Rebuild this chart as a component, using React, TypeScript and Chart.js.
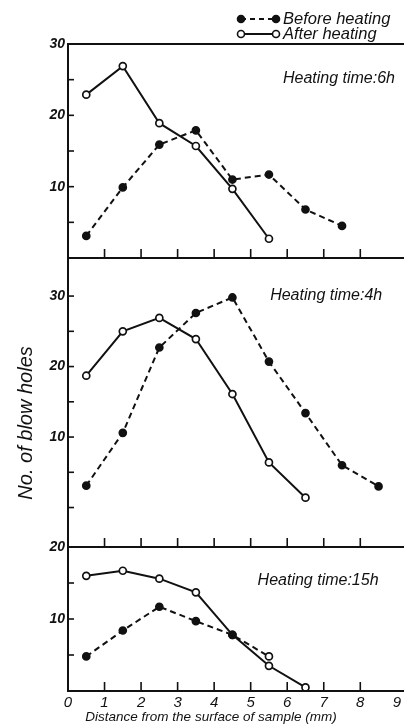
import React, { useEffect, useRef } from 'react';
import { Chart, registerables } from 'chart.js';

Chart.register(...registerables);

// ---- data ----
const distances = [0.5, 1.5, 2.5, 3.5, 4.5, 5.5, 6.5, 7.5, 8.5];
const before6h = [3.1, 9.9, 15.9, 17.9, 11, 11.7, 6.8, 4.5];
const after6h = [22.9, 26.9, 18.9, 15.7, 9.7, 2.7];
const before4h = [3.1, 10.6, 22.7, 27.6, 29.8, 20.7, 13.4, 6, 3];
const after4h = [18.7, 25, 26.9, 23.9, 16.1, 6.4, 1.4];
const before15h = [4.8, 8.4, 11.7, 9.7, 7.8, 4.8];
const after15h = [16, 16.7, 15.6, 13.7, 7.8, 3.5, 0.5];
const xTickValues = [0, 1, 2, 3, 4, 5, 6, 7, 8, 9];
const xTickLabels = ['0', '1', '2', '3', '4', '5', '6', '7', '8', '9'];
const yTickLabels6h = [10, 20, 30];
const yTickLabels4h = [10, 20, 30];
const yTickLabels15h = [10, 20];
const panelTitles = ['Heating time:6h', 'Heating time:4h', 'Heating time:15h'];
const legendLabels = ['Before heating', 'After heating'];
const xTitle = 'Distance from the surface of sample (mm)';
const yTitle = 'No. of blow holes';

const INK = '#111111';
const FONT = "'Liberation Sans', Arial, sans-serif";

function series(values: number[], axis: string, dashed: boolean, openIdx: number[] = []) {
  return {
    data: values.map((v, i) => ({ x: distances[i], y: v })),
    yAxisID: axis,
    borderColor: INK,
    borderWidth: 2,
    borderDash: dashed ? [6, 4] : [],
    pointRadius: 3.5,
    pointHoverRadius: 3.5,
    pointBorderWidth: 1.7,
    pointBorderColor: INK,
    pointBackgroundColor: values.map((_, i) => (!dashed || openIdx.includes(i) ? '#ffffff' : INK)),
    tension: 0,
    fill: false,
  };
}

function yAxis(min: number, max: number, weight: number, labels: number[]) {
  return {
    type: 'linear' as const,
    position: 'left' as const,
    stack: 'panels',
    stackWeight: weight,
    min,
    max,
    afterBuildTicks: (s: any) => {
      s.ticks = labels.map((v) => ({ value: v }));
    },
    afterFit: (s: any) => {
      s.width = 68;
    },
    grid: { display: false, drawTicks: false },
    border: { display: true, color: INK, width: 2 },
    ticks: {
      padding: 3,
      color: INK,
      font: { family: FONT, size: 14, style: 'italic' as const, weight: 'bold' as const },
    },
  };
}

const decorations = {
  id: 'decorations',
  afterDraw(chart: any) {
    const ctx = chart.ctx as CanvasRenderingContext2D;
    const xs = chart.scales.x;
    const y1 = chart.scales.y1;
    const y2 = chart.scales.y2;
    const y3 = chart.scales.y3;
    const left = chart.chartArea.left;
    const W = chart.width;
    const line = (ax: number, ay: number, bx: number, by: number) => {
      ctx.beginPath();
      ctx.moveTo(ax, ay);
      ctx.lineTo(bx, by);
      ctx.stroke();
    };
    ctx.save();
    ctx.strokeStyle = INK;
    ctx.lineWidth = 2;
    // frame lines
    line(left - 1, y1.top, W, y1.top);
    line(left - 1, y1.bottom, W, y1.bottom);
    line(left - 1, y2.bottom, W, y2.bottom);
    line(left - 1, y3.bottom, W, y3.bottom);
    // inward x ticks
    ctx.lineWidth = 1.6;
    [y1.bottom, y2.bottom, y3.bottom].forEach((b: number) => {
      for (let v = 1; v <= 8; v++) {
        const px = xs.getPixelForValue(v);
        line(px, b, px, b - 9);
      }
    });
    // inward y ticks every 5
    const yTicks = (scale: any, vals: number[]) => {
      vals.forEach((v) => {
        const py = scale.getPixelForValue(v);
        line(left, py, left + 6, py);
      });
    };
    yTicks(y1, [5, 10, 15, 20, 25]);
    yTicks(y2, [0, 5, 10, 15, 20, 25, 30]);
    yTicks(y3, [5, 10, 15]);

    ctx.fillStyle = INK;
    // panel titles
    ctx.font = `italic 16px ${FONT}`;
    ctx.textBaseline = 'middle';
    ctx.textAlign = 'right';
    ctx.fillText(panelTitles[0], xs.getPixelForValue(8.95), y1.getPixelForValue(25.2));
    ctx.fillText(panelTitles[1], xs.getPixelForValue(8.6), y2.getPixelForValue(30.1));
    ctx.fillText(panelTitles[2], xs.getPixelForValue(8.5), y3.getPixelForValue(15.3));

    // legend
    const lx0 = 241;
    const lx1 = 276;
    const rows = [19, 34];
    rows.forEach((ry, i) => {
      ctx.lineWidth = 1.8;
      ctx.setLineDash(i === 0 ? [5, 4] : []);
      line(lx0, ry, lx1, ry);
      ctx.setLineDash([]);
      [lx0, lx1].forEach((cx) => {
        ctx.beginPath();
        ctx.arc(cx, ry, 3.5, 0, Math.PI * 2);
        ctx.fillStyle = i === 0 ? INK : '#ffffff';
        ctx.fill();
        ctx.lineWidth = 1.6;
        ctx.stroke();
      });
      ctx.fillStyle = INK;
      ctx.textAlign = 'left';
      ctx.font = `italic 16.5px ${FONT}`;
      ctx.fillText(legendLabels[i], 283, ry);
    });

    // axis titles
    ctx.font = `italic 13.5px ${FONT}`;
    ctx.textAlign = 'center';
    ctx.textBaseline = 'middle';
    ctx.fillText(xTitle, 211, 717);

    ctx.save();
    ctx.translate(26, y2.getPixelForValue(12));
    ctx.rotate(-Math.PI / 2);
    ctx.font = `italic 20px ${FONT}`;
    ctx.fillText(yTitle, 0, 0);
    ctx.restore();

    ctx.restore();
  },
};

export default function App() {
  const ref = useRef<HTMLCanvasElement | null>(null);
  useEffect(() => {
    document.body.style.margin = '0';
    const canvas = ref.current;
    if (!canvas) return;
    const chart = new Chart(canvas, {
      type: 'line',
      data: {
        datasets: [
          series(before6h, 'y1', true),
          series(after6h, 'y1', false),
          series(before4h, 'y2', true),
          series(after4h, 'y2', false),
          series(before15h, 'y3', true, [5]),
          series(after15h, 'y3', false),
        ] as any,
      },
      options: {
        responsive: false,
        animation: false,
        devicePixelRatio: 1,
        layout: { padding: { top: 44, right: 1, left: 0, bottom: 0 } },
        plugins: { legend: { display: false }, tooltip: { enabled: false }, title: { display: false } },
        scales: {
          x: {
            type: 'linear',
            position: 'bottom',
            min: 0,
            max: 9,
            afterBuildTicks: (s: any) => {
              s.ticks = xTickValues.map((v) => ({ value: v }));
            },
            afterFit: (s: any) => {
              s.height = 35;
            },
            grid: { display: false, drawTicks: false },
            border: { display: true, color: INK, width: 2 },
            ticks: {
              padding: 3,
              color: INK,
              maxRotation: 0,
              autoSkip: false,
              font: { family: FONT, size: 15, style: 'italic' },
              callback: (v: any) => xTickLabels[xTickValues.indexOf(Number(v))],
            },
          },
          y3: yAxis(0, 20, 144, yTickLabels15h),
          y2: yAxis(-5.6, 35.4, 289, yTickLabels4h),
          y1: yAxis(0, 30, 214, yTickLabels6h),
        } as any,
      },
      plugins: [decorations],
    });
    return () => chart.destroy();
  }, []);
  return (
    <div style={{ position: 'absolute', left: 0, top: 0, width: 404, height: 726, background: '#fff' }}>
      <canvas ref={ref} width={404} height={726} style={{ width: 404, height: 726, display: 'block' }} />
    </div>
  );
}
